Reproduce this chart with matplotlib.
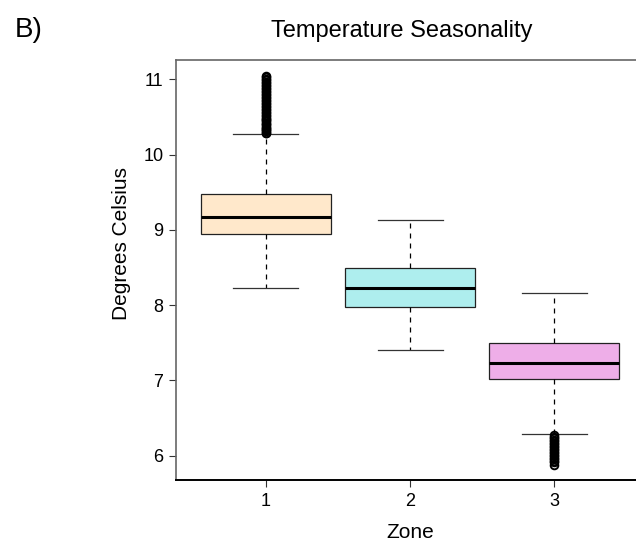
import matplotlib
matplotlib.use("Agg")
import matplotlib.pyplot as plt

plt.rcParams['font.family'] = ['Liberation Sans', 'DejaVu Sans']

# box statistics (degrees C)
zones = [1, 2, 3]
medians = [9.175, 8.223, 7.235]
q1 = [8.945, 7.979, 7.014]
q3 = [9.472, 8.489, 7.493]
whisk_lo = [8.223, 7.404, 6.288]
whisk_hi = [10.273, 9.13, 8.157]
fliers = [
    [10.28, 10.29, 10.31, 10.32, 10.34, 10.35, 10.37, 10.39, 10.40, 10.42,
     10.44, 10.46, 10.47, 10.49, 10.51, 10.53, 10.55, 10.57, 10.59, 10.61,
     10.63, 10.65, 10.67, 10.69, 10.71, 10.73, 10.75, 10.77, 10.79, 10.81,
     10.83, 10.85, 10.87, 10.89, 10.91, 10.93, 10.95, 10.97, 10.99, 11.01,
     11.03, 11.04],
    [],
    [6.27, 6.25, 6.23, 6.21, 6.19, 6.17, 6.15, 6.13, 6.11, 6.09,
     6.07, 6.05, 6.03, 6.01, 5.99, 5.97, 5.95, 5.93, 5.91, 5.87],
]
colors = ['#FFE8CB', '#AEEEEE', '#EEAEE8']

stats = []
for i in range(len(zones)):
    stats.append(dict(med=medians[i], q1=q1[i], q3=q3[i],
                      whislo=whisk_lo[i], whishi=whisk_hi[i],
                      fliers=fliers[i], label=str(zones[i])))

fig = plt.figure(figsize=(6.36, 5.41), dpi=100)
ax = fig.add_axes([176/636, 61/541, 468/636, 420/541])

bp = ax.bxp(stats, positions=zones, widths=0.9, patch_artist=True,
            boxprops=dict(edgecolor='#222222', linewidth=0.9),
            medianprops=dict(color='black', linewidth=2.2),
            whiskerprops=dict(color='black', linewidth=0.9, linestyle=(0, (4, 4))),
            capprops=dict(color='#333333', linewidth=0.9),
            flierprops=dict(marker='o', markerfacecolor='none',
                            markeredgecolor='black', markersize=5.5,
                            markeredgewidth=1.4))
for patch, c in zip(bp['boxes'], colors):
    patch.set_facecolor(c)
for cap in bp['caps']:
    xd = cap.get_xdata()
    mid = (xd[0] + xd[1]) / 2
    cap.set_xdata([mid - 0.225, mid + 0.225])

ax.set_xlim(0.38, 3.62)
ax.set_ylim(5.677, 11.256)
ax.set_yticks([6, 7, 8, 9, 10, 11])
ax.set_xticks(zones)
ax.set_xticklabels([str(z) for z in zones])
ax.tick_params(axis='both', direction='out', length=5, width=0.8,
               labelsize=13, pad=4, color='#333333')

for s in ['top', 'left']:
    ax.spines[s].set_color('#666666')
    ax.spines[s].set_linewidth(1.2)
ax.spines['bottom'].set_color('black')
ax.spines['bottom'].set_linewidth(1.4)
ax.spines['right'].set_visible(False)

fig.text(402/636, 1 - 37/541, 'Temperature Seasonality', fontsize=17,
         ha='center', va='baseline')
fig.text(15/636, 1 - 37/541, 'B)', fontsize=20, ha='left', va='baseline')
fig.text(410/636, 1 - 538/541, 'Zone', fontsize=15, ha='center', va='baseline')
fig.text(127/636, 1 - 244/541, 'Degrees Celsius', fontsize=15, rotation=90,
         rotation_mode='anchor', ha='center', va='baseline')

fig.savefig('out.png', dpi=100)
